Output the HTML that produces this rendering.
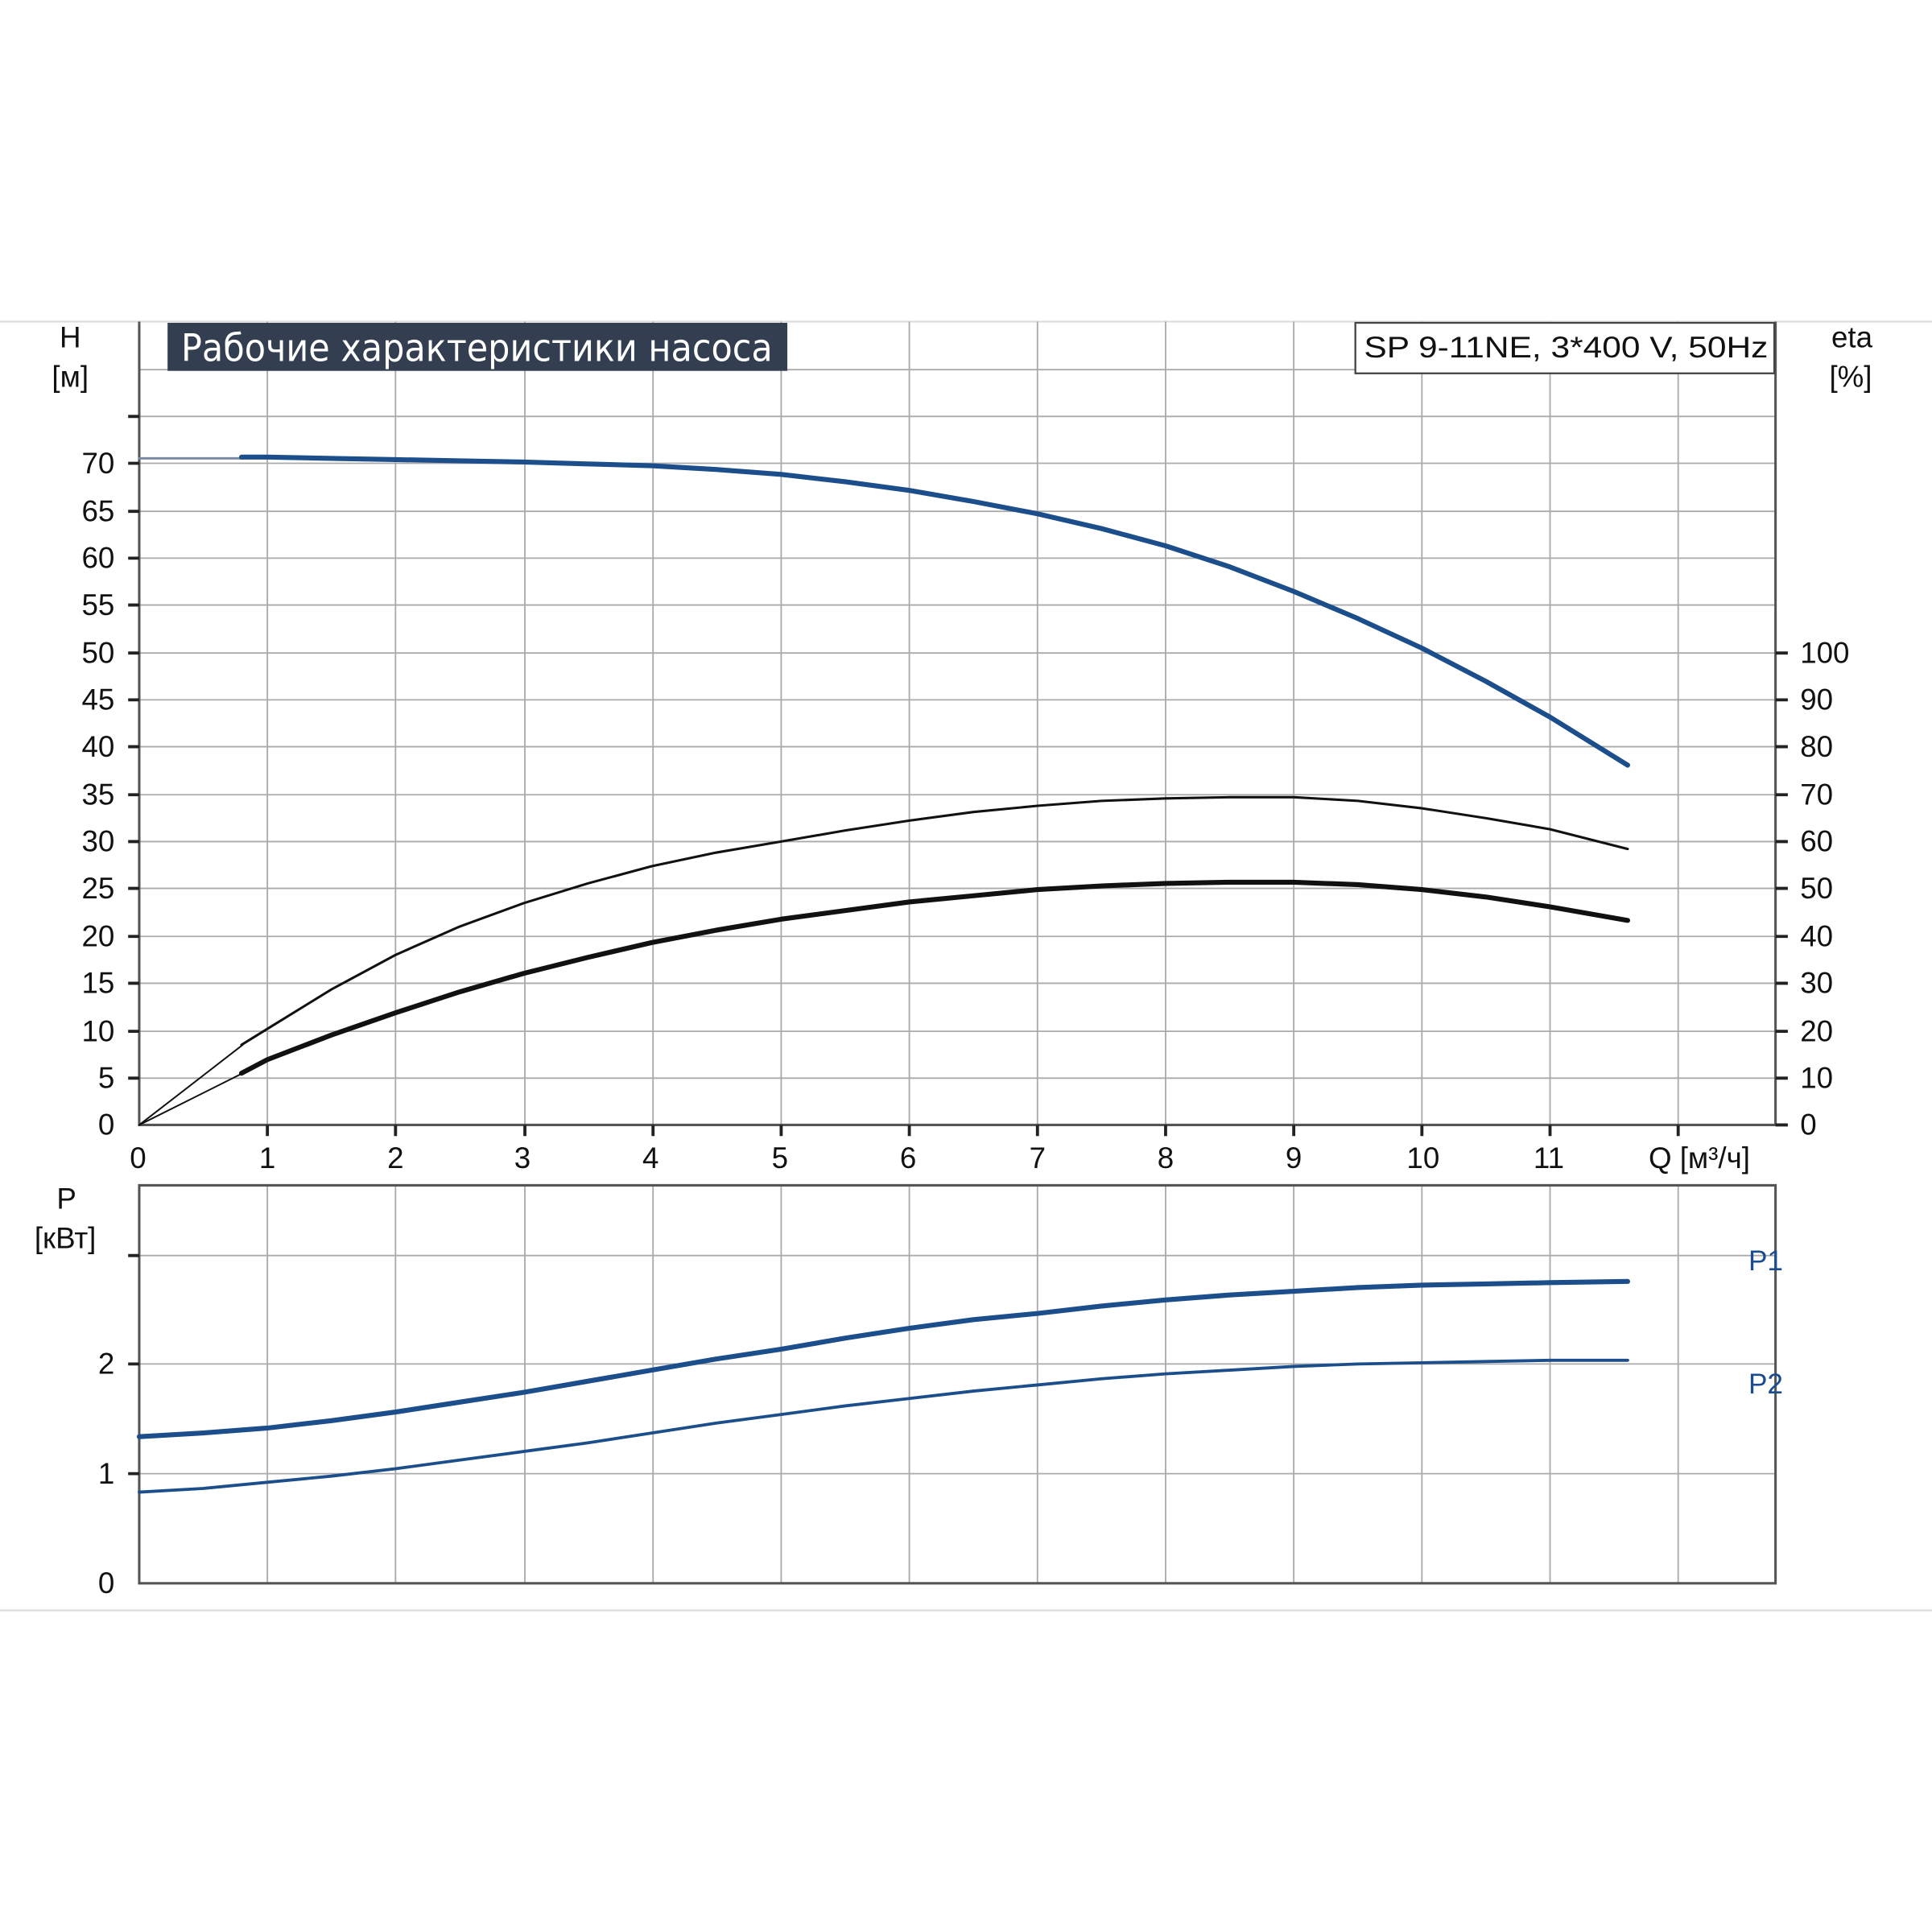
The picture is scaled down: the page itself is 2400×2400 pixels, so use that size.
<!DOCTYPE html>
<html><head><meta charset="utf-8"><style>html,body{margin:0;padding:0;background:#fff}svg{display:block}</style></head>
<body>
<svg width="2400" height="2400" viewBox="0 0 1568 1568" xmlns="http://www.w3.org/2000/svg" font-family="Liberation Sans, DejaVu Sans, sans-serif">
<rect width="1568" height="1568" fill="#fff"/>
<line x1="0" y1="261" x2="1568" y2="261" stroke="#ddd" stroke-width="1.5"/>
<line x1="0" y1="1307" x2="1568" y2="1307" stroke="#ddd" stroke-width="1.5"/>
<g stroke="#aaa" stroke-width="1.2" fill="none">
<path d="M217 261V913M321 261V913M426 261V913M530 261V913M634 261V913M738 261V913M842 261V913M946 261V913M1050 261V913M1154 261V913M1258 261V913M1362 261V913"/>
<path d="M113 300H1441M113 338H1441M113 376H1441M113 415H1441M113 453H1441M113 491H1441M113 530H1441M113 568H1441M113 606H1441M113 645H1441M113 683H1441M113 721H1441M113 760H1441M113 798H1441M113 837H1441M113 875H1441"/>
<path d="M217 962V1285M321 962V1285M426 962V1285M530 962V1285M634 962V1285M738 962V1285M842 962V1285M946 962V1285M1050 962V1285M1154 962V1285M1258 962V1285M1362 962V1285"/>
<path d="M113 1019H1441M113 1107H1441M113 1196H1441"/>
</g>
<g stroke="#555" stroke-width="2" fill="none">
<path d="M113 261V913H1441V261"/>
<path d="M113 962H1441V1285H113Z"/>
</g>
<g stroke="#222" stroke-width="2.5">
<path d="M104 338H113M104 376H113M104 415H113M104 453H113M104 491H113M104 530H113M104 568H113M104 606H113M104 645H113M104 683H113M104 721H113M104 760H113M104 798H113M104 837H113M104 875H113"/>
<path d="M1441 530H1451M1441 568H1451M1441 606H1451M1441 645H1451M1441 683H1451M1441 721H1451M1441 760H1451M1441 798H1451M1441 837H1451M1441 875H1451M1441 913H1451"/>
<path d="M217 913V922M321 913V922M426 913V922M530 913V922M634 913V922M738 913V922M842 913V922M946 913V922M1050 913V922M1154 913V922M1258 913V922M1362 913V922"/>
<path d="M104 1019H113M104 1107H113M104 1196H113"/>
</g>
<g font-size="24" fill="#111" text-anchor="end">
<text x="93" y="384">70</text><text x="93" y="423">65</text><text x="93" y="461">60</text><text x="93" y="499">55</text><text x="93" y="538">50</text><text x="93" y="576">45</text><text x="93" y="614">40</text><text x="93" y="653">35</text><text x="93" y="691">30</text><text x="93" y="729">25</text><text x="93" y="768">20</text><text x="93" y="806">15</text><text x="93" y="845">10</text><text x="93" y="883">5</text><text x="93" y="921">0</text>
<text x="93" y="1115">2</text><text x="93" y="1204">1</text><text x="93" y="1293">0</text>
</g>
<g font-size="24" fill="#111">
<text x="1461" y="538">100</text><text x="1461" y="576">90</text><text x="1461" y="614">80</text><text x="1461" y="653">70</text><text x="1461" y="691">60</text><text x="1461" y="729">50</text><text x="1461" y="768">40</text><text x="1461" y="806">30</text><text x="1461" y="845">20</text><text x="1461" y="883">10</text><text x="1461" y="921">0</text>
</g>
<g font-size="24" fill="#111" text-anchor="middle">
<text x="112" y="948">0</text><text x="217" y="948">1</text><text x="321" y="948">2</text><text x="424" y="948">3</text><text x="528" y="948">4</text><text x="633" y="948">5</text><text x="737" y="948">6</text><text x="842" y="948">7</text><text x="946" y="948">8</text><text x="1050" y="948">9</text><text x="1155" y="948">10</text><text x="1257" y="948">11</text>
<text x="57" y="282">H</text><text x="57" y="314">[м]</text>
<text x="1503" y="282">eta</text><text x="1502" y="314">[%]</text>
<text x="54" y="981">P</text><text x="53" y="1013">[кВт]</text>
</g>
<text x="1338" y="948" font-size="24" fill="#111">Q [м³/ч]</text>
<rect x="136" y="262" width="503" height="39" fill="#333f50"/>
<text x="147" y="293" font-size="31" fill="#fff" font-family="Liberation Sans Narrow, DejaVu Sans Condensed, sans-serif" textLength="480" lengthAdjust="spacingAndGlyphs">Рабочие характеристики насоса</text>
<rect x="1100" y="262" width="340" height="41" fill="#fff" stroke="#444" stroke-width="1.5"/>
<text x="1107" y="290" font-size="24" fill="#111" textLength="328" lengthAdjust="spacingAndGlyphs">SP 9-11NE, 3*400 V, 50Hz</text>
<text x="1419" y="1031" font-size="23" fill="#1a4d8f">P1</text>
<text x="1419" y="1131" font-size="23" fill="#1a4d8f">P2</text>
<g fill="none" stroke-linecap="round" stroke-linejoin="round">
<path d="M113 372H197" stroke="#7a8aa5" stroke-width="2"/>
<polyline points="196,371 217,371 269,372 321,373 373,374 425,375 477,376.5 529,378 581,381 634,385 686,391 738,398 790,407 842,417 894,429 946,443 998,460 1050,480 1102,502 1154,526 1206,553 1258,582 1321,621" stroke="#1b4e8a" stroke-width="4"/>
<path d="M113 913 L197 848" stroke="#111" stroke-width="1.3"/>
<polyline points="196,848 217,835 269,803 321,775 373,752 425,733 477,717 529,703 581,692 634,683 686,674 738,666 790,659 842,654 894,650 946,648 998,647 1050,647 1102,650 1154,656 1206,664 1258,673 1321,689" stroke="#111" stroke-width="2"/>
<path d="M113 913 L197 871" stroke="#111" stroke-width="1.3"/>
<polyline points="196,871 217,860 269,840 321,822 373,805 425,790 477,777 529,765 581,755 634,746 686,739 738,732 790,727 842,722 894,719 946,717 998,716 1050,716 1102,718 1154,722 1206,728 1258,736 1321,747" stroke="#111" stroke-width="4"/>
<polyline points="113,1166 165,1163 217,1159 269,1153 321,1146 373,1138 425,1130 477,1121 529,1112 581,1103 634,1095 686,1086 738,1078 790,1071 842,1066 894,1060 946,1055 998,1051 1050,1048 1102,1045 1154,1043 1206,1042 1258,1041 1321,1040" stroke="#1b4e8a" stroke-width="4"/>
<polyline points="113,1211 165,1208 217,1203 269,1198 321,1192 373,1185 425,1178 477,1171 529,1163 581,1155 634,1148 686,1141 738,1135 790,1129 842,1124 894,1119 946,1115 998,1112 1050,1109 1102,1107 1154,1106 1206,1105 1258,1104 1321,1104" stroke="#1b4e8a" stroke-width="2.5"/>
</g>
</svg>
</body></html>
